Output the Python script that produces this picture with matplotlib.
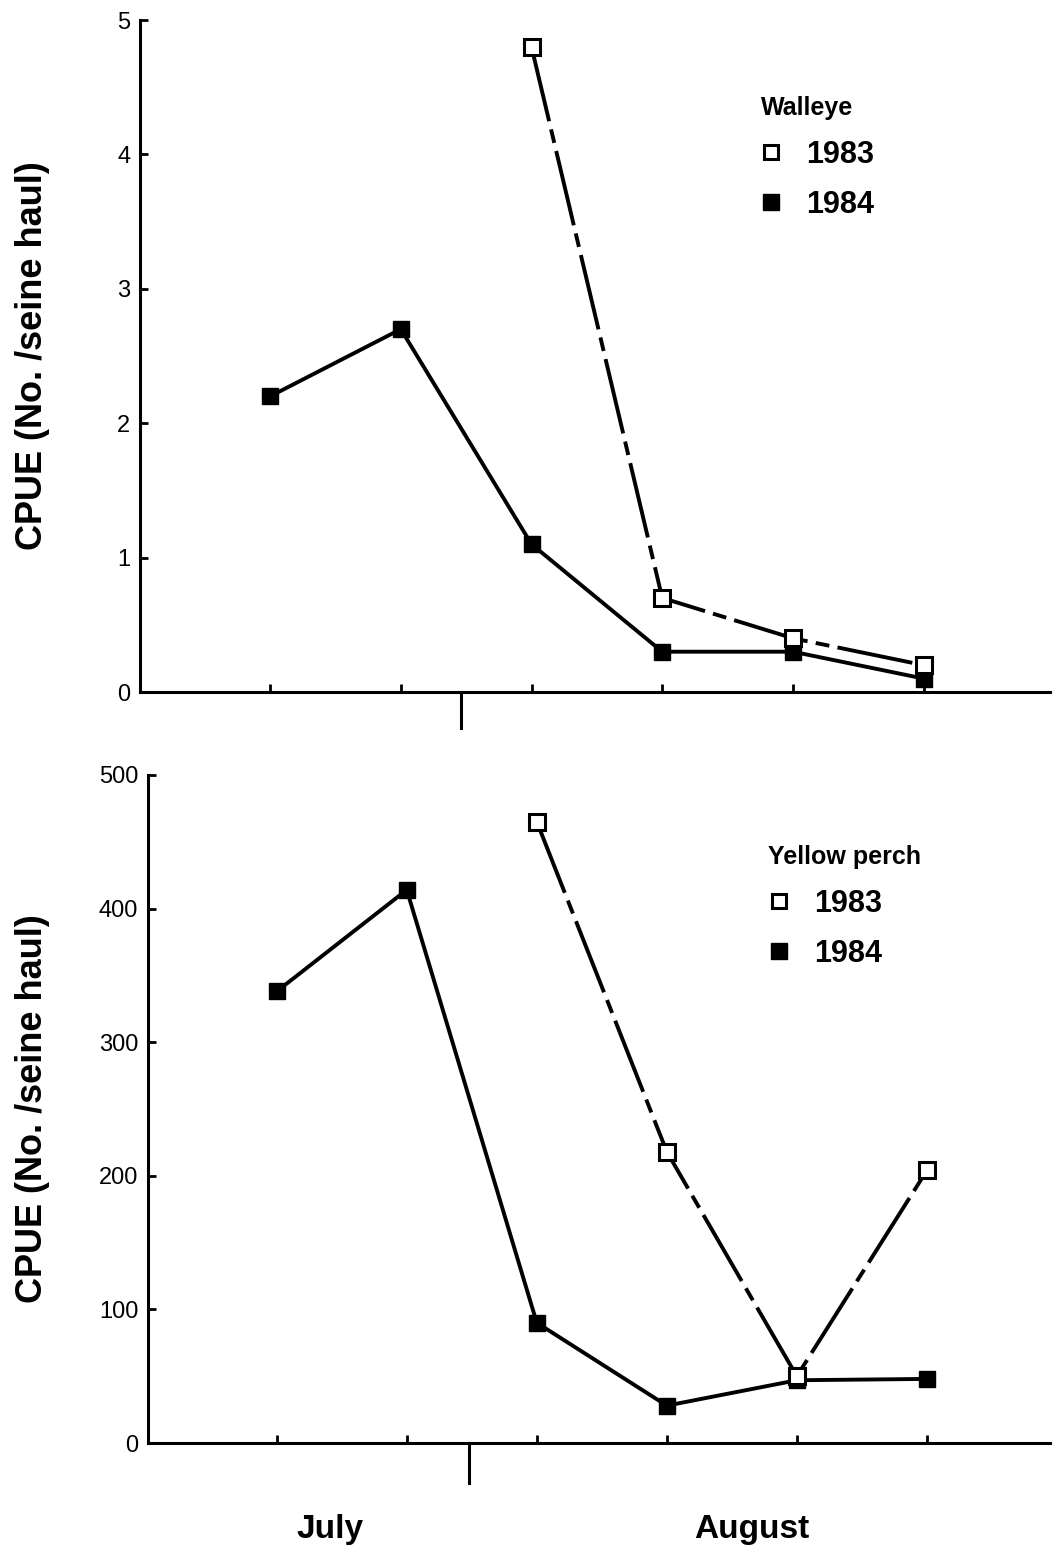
import matplotlib
matplotlib.use('Agg')
import matplotlib.pyplot as plt
from matplotlib.lines import Line2D
import matplotlib.transforms as mtransforms

plt.rcParams['font.family'] = ['Liberation Sans', 'DejaVu Sans']
plt.rcParams['lines.scale_dashes'] = False

# sampling dates (index positions along the season)
dates_1984 = [1, 2, 3, 4, 5, 6]
dates_1983 = [3, 4, 5, 6]

# walleye CPUE
walleye_1984 = [2.2, 2.7, 1.1, 0.3, 0.3, 0.1]
walleye_1983 = [4.8, 0.7, 0.4, 0.2]

# yellow perch CPUE
perch_1984 = [338, 414, 90, 28, 47, 48]
perch_1983 = [465, 218, 50, 204]

month_labels = ['July', 'August']
ylabel = 'CPUE (No. /seine haul)'

fig = plt.figure(figsize=(10.61, 15.53), dpi=100)
ax1 = fig.add_axes([0.132, 0.5544, 0.858, 0.4327])
ax2 = fig.add_axes([0.1395, 0.0708, 0.8505, 0.4302])

dashdot = (0, (55, 6, 10, 6))


def style_axis(ax, yticks, ylim, xlim, sep_x, sep_len, lab_x):
    for s in ['top', 'right']:
        ax.spines[s].set_visible(False)
    for s in ['left', 'bottom']:
        ax.spines[s].set_linewidth(2.2)
    ax.set_xlim(*xlim)
    ax.set_ylim(*ylim)
    ax.set_yticks(yticks)
    ax.set_xticks(dates_1984)
    ax.set_xticklabels([])
    ax.tick_params(axis='both', direction='in', length=6, width=2)
    ax.tick_params(axis='y', labelsize=17, pad=7)
    ax.set_ylabel(ylabel, fontsize=26, fontweight='bold')
    ax.yaxis.set_label_coords(lab_x, 0.5)
    trans = mtransforms.blended_transform_factory(ax.transData, ax.transAxes)
    ax.plot([sep_x, sep_x], [0, -sep_len], color='black', lw=2.2,
            transform=trans, clip_on=False)


def legend(ax, title, anchor):
    handles = [Line2D([], [], ls='none', marker='s', ms=10, mfc='white',
                      mec='black', mew=2.2),
               Line2D([], [], ls='none', marker='s', ms=12, mfc='black',
                      mec='black')]
    lg = ax.legend(handles, ['1983', '1984'], title=title, loc='upper left',
                   bbox_to_anchor=anchor, frameon=False,
                   prop={'size': 22, 'weight': 'bold'},
                   title_fontproperties={'size': 18, 'weight': 'bold'},
                   handlelength=0.7, handletextpad=0.8, labelspacing=0.65,
                   borderpad=0, alignment='left')
    return lg


# walleye panel
ax1.plot(dates_1984, walleye_1984, color='black', lw=2.8, marker='s', ms=12,
         mfc='black', mec='black')
ax1.plot(dates_1983, walleye_1983, color='black', lw=2.8, ls=dashdot,
         marker='s', ms=11, mfc='white', mec='black', mew=2.2)
style_axis(ax1, [0, 1, 2, 3, 4, 5], (0, 5), (0.005, 6.97), 2.46, 0.054, -0.099)
legend(ax1, 'Walleye', (0.665, 0.91))

# yellow perch panel
ax2.plot(dates_1984, perch_1984, color='black', lw=2.8, marker='s', ms=12,
         mfc='black', mec='black')
ax2.plot(dates_1983, perch_1983, color='black', lw=2.8, ls=dashdot,
         marker='s', ms=11, mfc='white', mec='black', mew=2.2)
style_axis(ax2, [0, 100, 200, 300, 400, 500], (0, 500), (0.01, 6.95), 2.48,
           0.06, -0.109)
legend(ax2, 'Yellow perch', (0.67, 0.918))

# month labels under the lower panel
for xpos, lab in zip([1.41, 4.65], month_labels):
    ax2.text(xpos, -0.13, lab, fontsize=24, fontweight='bold', ha='center',
             va='center',
             transform=mtransforms.blended_transform_factory(ax2.transData,
                                                              ax2.transAxes))

fig.savefig('out.png', dpi=100)
